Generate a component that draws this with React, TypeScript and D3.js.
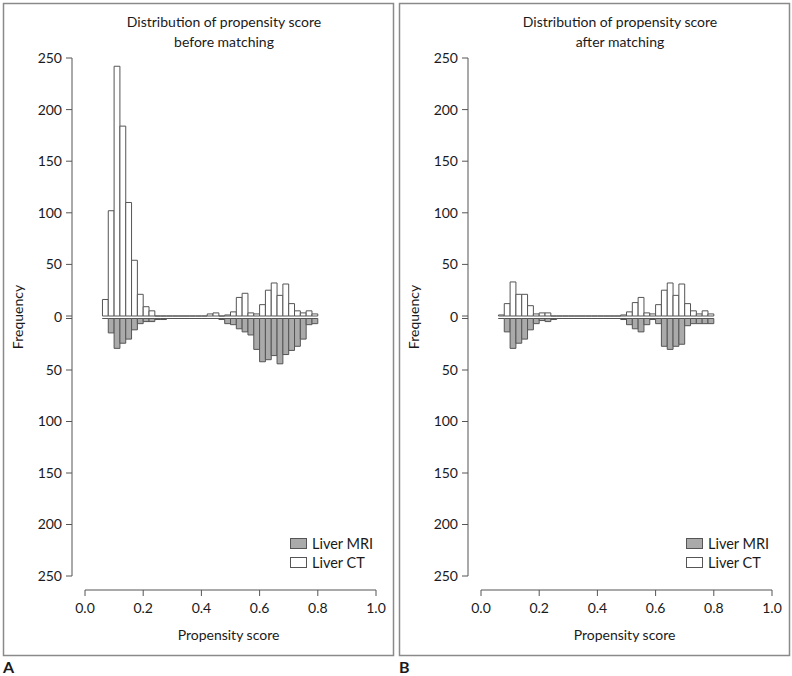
import React from "react";
import * as d3 from "d3";

// Histogram bins: start of each 0.02-wide bin
const binStarts: number[] = d3.range(37).map((i) => +(0.06 + 0.02 * i).toFixed(2));
const binWidth = 0.02;

const ctBefore: number[] = [16, 102, 242, 184, 110, 54, 21, 9, 5, 0, 0, 0, 0, 0, 0, 0, 0, 0, 2, 3, 0, 1, 4, 18, 22, 3, 2, 11, 25, 32, 20, 31, 12, 5, 3, 5, 2];
const mriBefore: number[] = [0, 14, 29, 24, 20, 11, 5, 3, 3, 1, 1, 0, 0, 0, 0, 0, 0, 0, 0, 0, 1, 5, 6, 10, 13, 16, 30, 42, 40, 36, 44, 35, 31, 27, 20, 6, 5];
const ctAfter: number[] = [1, 12, 33, 21, 21, 10, 2, 3, 3, 0, 0, 0, 0, 0, 0, 0, 0, 0, 0, 0, 0, 1, 4, 13, 18, 3, 2, 11, 25, 32, 20, 31, 12, 5, 2, 5, 2];
const mriAfter: number[] = [0, 13, 29, 24, 20, 11, 5, 2, 3, 1, 0, 0, 0, 0, 0, 0, 0, 0, 0, 0, 0, 1, 6, 10, 13, 6, 1, 5, 27, 30, 27, 25, 7, 5, 5, 5, 5];

const xTicks: number[] = [0, 0.2, 0.4, 0.6, 0.8, 1.0];
const yTicks: number[] = [0, 50, 100, 150, 200, 250];
const seriesNames: string[] = ["Liver MRI", "Liver CT"];
const titles: string[][] = [
  ["Distribution of propensity score", "before matching"],
  ["Distribution of propensity score", "after matching"],
];
const panelLetters: string[] = ["A", "B"];

const FONT = "Lato, 'Open Sans', sans-serif";
const FS = 14;
const TEXT = "#1a1a1a";
const AXIS = "#555";
const BAR_STROKE = "#555";
const GRAY = "#aaaaaa";

function barPath(x0: number, x1: number, y0: number, y1: number) {
  return `M${x0},${y0}H${x1}V${y1}H${x0}Z`;
}

function Panel({ dx, ct, mri, title, letter }: { dx: number; ct: number[]; mri: number[]; title: string[]; letter: string }) {
  const x = d3.scaleLinear().domain([0, 1]).range([85 + dx, 376 + dx]);
  const yUp = d3.scaleLinear().domain([0, 250]).range([316, 58]);
  const yDown = d3.scaleLinear().domain([0, 250]).range([318.5, 576]);
  const axisX = 72 + dx;
  const titleX = 224 + dx;
  return (
    <g>
      <rect x={3.5 + dx} y={3.5} width={390} height={652} fill="white" stroke="#8a8a8a" strokeWidth={1.5} />
      <text x={titleX} y={27} textAnchor="middle" fontFamily={FONT} fontSize={FS} fill={TEXT}>{title[0]}</text>
      <text x={titleX} y={47} textAnchor="middle" fontFamily={FONT} fontSize={FS} fill={TEXT}>{title[1]}</text>
      {/* bars */}
      {binStarts.map((b, i) => (
        <path key={"ct" + i} d={barPath(x(b), x(b + binWidth), yUp(0), yUp(ct[i]))} fill="white" stroke={BAR_STROKE} strokeWidth={1} />
      ))}
      {binStarts.map((b, i) => (
        <path key={"mri" + i} d={barPath(x(b), x(b + binWidth), yDown(0), yDown(mri[i]))} fill={GRAY} stroke={BAR_STROKE} strokeWidth={1} />
      ))}
      {/* y axis */}
      <line x1={axisX} x2={axisX} y1={yUp(250)} y2={yDown(250)} stroke={AXIS} strokeWidth={1} />
      {yTicks.map((t) => (
        <g key={"yu" + t}>
          <line x1={axisX - 6} x2={axisX} y1={yUp(t)} y2={yUp(t)} stroke={AXIS} strokeWidth={1} />
          {t !== 0 && (
            <text x={axisX - 10} y={yUp(t)} dy="0.35em" textAnchor="end" fontFamily={FONT} fontSize={FS} fill={TEXT}>{t}</text>
          )}
        </g>
      ))}
      {yTicks.map((t) => (
        <g key={"yd" + t}>
          <line x1={axisX - 6} x2={axisX} y1={yDown(t)} y2={yDown(t)} stroke={AXIS} strokeWidth={1} />
          {t !== 0 && (
            <text x={axisX - 10} y={yDown(t)} dy="0.35em" textAnchor="end" fontFamily={FONT} fontSize={FS} fill={TEXT}>{t}</text>
          )}
        </g>
      ))}
      <text x={axisX - 10} y={(yUp(0) + yDown(0)) / 2} dy="0.35em" textAnchor="end" fontFamily={FONT} fontSize={FS} fill={TEXT}>0</text>
      <text transform={`translate(${23 + dx},${317}) rotate(-90)`} textAnchor="middle" fontFamily={FONT} fontSize={FS} fill={TEXT}>Frequency</text>
      {/* x axis */}
      <line x1={x(0)} x2={x(1)} y1={590} y2={590} stroke={AXIS} strokeWidth={1} />
      {xTicks.map((t) => (
        <g key={"x" + t}>
          <line x1={x(t)} x2={x(t)} y1={590} y2={596} stroke={AXIS} strokeWidth={1} />
          <text x={x(t)} y={613} textAnchor="middle" fontFamily={FONT} fontSize={FS} fill={TEXT}>{t.toFixed(1)}</text>
        </g>
      ))}
      <text x={x(0.5) - 2} y={640} textAnchor="middle" fontFamily={FONT} fontSize={FS} fill={TEXT}>Propensity score</text>
      {/* legend */}
      <rect x={290.5 + dx} y={538.5} width={16} height={10} fill={GRAY} stroke={BAR_STROKE} strokeWidth={1} />
      <text x={312 + dx} y={543.5} dy="0.35em" fontFamily={FONT} fontSize={14.5} fill={TEXT}>{seriesNames[0]}</text>
      <rect x={290.5 + dx} y={557.5} width={16} height={10} fill="white" stroke={BAR_STROKE} strokeWidth={1} />
      <text x={312 + dx} y={562.5} dy="0.35em" fontFamily={FONT} fontSize={14.5} fill={TEXT}>{seriesNames[1]}</text>
      <text x={3 + dx} y={673} fontFamily={FONT} fontWeight="bold" fontSize={16} fill={TEXT}>{letter}</text>
    </g>
  );
}

export default function App() {
  return (
    <svg width={792} height={676} style={{ position: "absolute", left: 0, top: 0, background: "white" }}>
      <rect width={792} height={676} fill="white" />
      <Panel dx={0} ct={ctBefore} mri={mriBefore} title={titles[0]} letter={panelLetters[0]} />
      <Panel dx={396} ct={ctAfter} mri={mriAfter} title={titles[1]} letter={panelLetters[1]} />
    </svg>
  );
}
